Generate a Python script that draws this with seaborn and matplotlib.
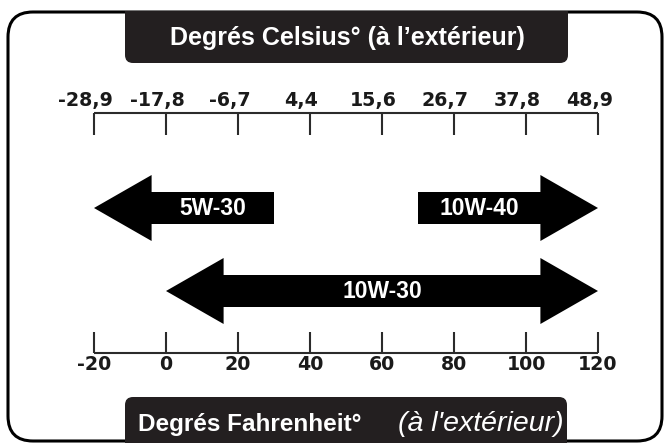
import numpy as np
import pandas as pd
import matplotlib
matplotlib.use('Agg')
import matplotlib.pyplot as plt
import seaborn as sns
from matplotlib.patches import Polygon, FancyBboxPatch, Rectangle

# Chart data
fahrenheit_ticks = [-20, 0, 20, 40, 60, 80, 100, 120]
celsius_labels = ['-28,9', '-17,8', '-6,7', '4,4', '15,6', '26,7', '37,8', '48,9']
oil_grades = ['5W-30', '10W-40', '10W-30']
grade_low_f = [-20, 70, 0]
grade_high_f = [30, 120, 120]
head_cold = [True, False, True]
head_hot = [False, True, True]

title_top = "Degrés Celsius° (à l’extérieur)"
title_bottom_main = "Degrés Fahrenheit°"
title_bottom_note = "(à l'extérieur)"

grades = pd.DataFrame({'grade': oil_grades, 'low': grade_low_f, 'high': grade_high_f,
                       'cold': head_cold, 'hot': head_hot})

sns.set_theme(style='white')
plt.rcParams['font.family'] = ['Liberation Sans', 'DejaVu Sans']

W, H = 667, 443
fig = plt.figure(figsize=(W / 100, H / 100), dpi=100)
fig.patch.set_facecolor('white')

# decoration layer in pixel units
deco = fig.add_axes([0, 0, 1, 1], zorder=0)
deco.set_xlim(0, W)
deco.set_ylim(H, 0)
deco.axis('off')

dark = '#231f20'
deco.add_patch(FancyBboxPatch((8, 12), 654, 429, boxstyle='round,pad=0,rounding_size=25',
                              fc='none', ec='black', lw=2.2))
# top title box (square top, rounded bottom)
deco.add_patch(FancyBboxPatch((125, 12), 443, 51, boxstyle='round,pad=0,rounding_size=8',
                              fc=dark, ec='none'))
deco.add_patch(Rectangle((125, 11), 443, 20, fc=dark, ec='none'))
# bottom title box (rounded top, runs off the canvas)
deco.add_patch(FancyBboxPatch((125, 397), 442, 70, boxstyle='round,pad=0,rounding_size=8',
                              fc=dark, ec='none'))

deco.text(347, 38, title_top, color='white', ha='center', va='center',
          fontsize=18, fontweight='bold')
deco.text(138, 424, title_bottom_main, color='white', ha='left', va='center',
          fontsize=17.5, fontweight='bold')
deco.text(564, 424, title_bottom_note, color='white', ha='right', va='center',
          fontsize=20.5, fontstyle='italic')

# data layer: x in Fahrenheit, y in pixels
ax = fig.add_axes([0, 0, 1, 1], zorder=1)
ax.patch.set_alpha(0)
px_per_f = (598 - 94) / 140
xmin = -20 - 94 / px_per_f
ax.set_xlim(xmin, xmin + W / px_per_f)
ax.set_ylim(H, 0)
ax.axis('off')

line_kw = dict(color='#2b2b2b', lw=1.5)
# Celsius scale on top (labels sit slightly left of their ticks)
ax.hlines(113, fahrenheit_ticks[0], fahrenheit_ticks[-1], **line_kw)
ax.vlines(fahrenheit_ticks, 113, 135, **line_kw)
for f, c in zip(fahrenheit_ticks, celsius_labels):
    ax.text(f - 2.4, 100, c, ha='center', va='center', fontsize=13.7, fontweight='bold',
            family='DejaVu Sans', color='#1a1a1a')
# Fahrenheit scale on bottom
ax.hlines(353, fahrenheit_ticks[0], fahrenheit_ticks[-1], **line_kw)
ax.vlines(fahrenheit_ticks, 332, 353, **line_kw)
for f in fahrenheit_ticks:
    ax.text(f, 364, str(f), ha='center', va='center', fontsize=13.7, fontweight='bold',
            family='DejaVu Sans', color='#1a1a1a')

# arrows
row_y = {'5W-30': 208, '10W-40': 208, '10W-30': 291}
head_len = 16      # in degrees F
half_head = 33     # px
half_shaft = 16    # px
for _, r in grades.iterrows():
    yc = row_y[r['grade']]
    lo, hi = r['low'], r['high']
    pts = []
    if r['cold']:
        pts += [(lo, yc), (lo + head_len, yc - half_head), (lo + head_len, yc - half_shaft)]
    else:
        pts += [(lo, yc + half_shaft), (lo, yc - half_shaft)]
    if r['hot']:
        pts += [(hi - head_len, yc - half_shaft), (hi - head_len, yc - half_head), (hi, yc),
                (hi - head_len, yc + half_head), (hi - head_len, yc + half_shaft)]
    else:
        pts += [(hi, yc - half_shaft), (hi, yc + half_shaft)]
    if r['cold']:
        pts += [(lo + head_len, yc + half_shaft), (lo + head_len, yc + half_head)]
    ax.add_patch(Polygon(pts, closed=True, fc='black', ec='none'))
    s_lo = lo + head_len if r['cold'] else lo
    s_hi = hi - head_len if r['hot'] else hi
    ax.text((s_lo + s_hi) / 2, yc, r['grade'], color='white', ha='center', va='center',
            fontsize=16.5, fontweight='bold')

fig.savefig('out.png', dpi=100, facecolor='white')
